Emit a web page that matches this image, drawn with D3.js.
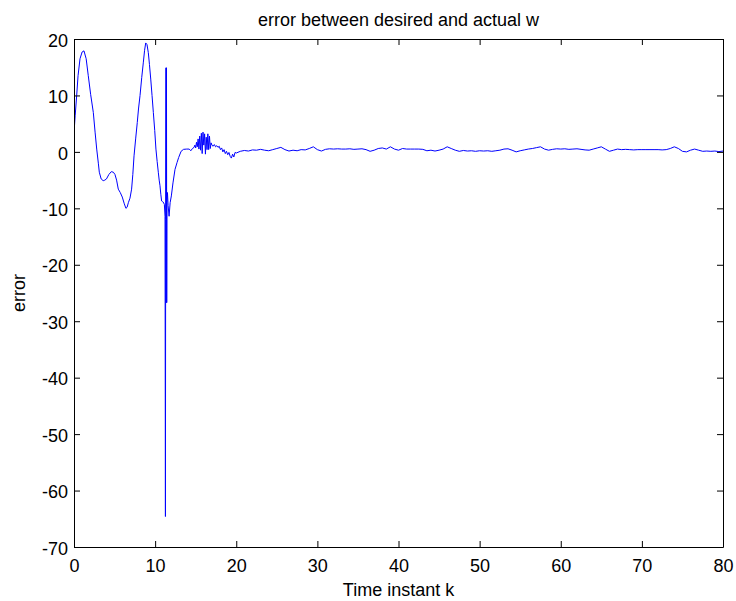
<!DOCTYPE html>
<html>
<head>
<meta charset="utf-8">
<script src="https://cdn.jsdelivr.net/npm/d3@7"></script>
<style>
  html, body { margin: 0; padding: 0; background: #fff; }
  svg { display: block; font-family: "Liberation Sans", Arial, Helvetica, sans-serif; }
</style>
</head>
<body>
<svg id="chart" width="736" height="601"></svg>
<script>
// Tracking error of w against time instant k
const timeK = [
  0, 0.15, 0.33, 0.5, 0.74, 1.0, 1.23, 1.5, 1.76, 2.05, 2.38, 2.6, 2.8, 3.0, 3.12, 3.35, 3.6, 3.8, 4.0, 4.3,
  4.6, 4.85, 5.05, 5.25, 5.46, 5.7, 5.95, 6.2, 6.4, 6.55, 6.7, 6.9, 7.1, 7.25, 7.4, 7.6, 7.8, 7.95, 8.14, 8.35,
  8.55, 8.7, 8.84, 9.0, 9.16, 9.3, 9.46, 9.62, 9.78, 9.95, 10.1, 10.25, 10.4, 10.5, 10.6, 10.7, 10.8, 10.9, 11.0, 11.14,
  11.22, 11.27, 11.30, 11.34, 11.37, 11.40, 11.43, 11.46, 11.52, 11.6, 11.72, 11.85, 12.0, 12.2, 12.45, 12.7, 12.9, 13.2, 13.5, 13.9,
  14.2, 14.4, 14.6, 14.8, 14.9, 15.0, 15.1, 15.2, 15.3, 15.4, 15.5, 15.6, 15.7, 15.8, 15.9, 16.0, 16.1, 16.2, 16.3, 16.4,
  16.5, 16.6, 16.7, 16.8, 16.9, 17.0, 17.15, 17.3, 17.45, 17.6, 17.75, 17.9, 18.05, 18.2, 18.35, 18.5, 18.65, 18.8, 18.95, 19.1,
  19.25, 19.4, 19.55, 19.7, 19.85, 20.0,
  20.5, 21, 21.5, 22, 22.5, 23, 23.5, 24, 24.5, 25, 25.5, 26, 26.5, 27, 27.5, 28, 28.5, 29, 29.5, 30,
  30.5, 31, 31.5, 32, 32.5, 33, 33.5, 34, 34.5, 35, 35.5, 36, 36.5, 37, 37.5, 38, 38.5, 39, 39.5, 40,
  40.5, 41, 41.5, 42, 42.5, 43, 43.5, 44, 44.5, 45, 45.5, 46, 46.5, 47, 47.5, 48, 48.5, 49, 49.5, 50,
  50.5, 51, 51.5, 52, 52.5, 53, 53.5, 54, 54.5, 55, 55.5, 56, 56.5, 57, 57.5, 58, 58.5, 59, 59.5, 60,
  60.5, 61, 61.5, 62, 62.5, 63, 63.5, 64, 64.5, 65, 65.5, 66, 66.5, 67, 67.5, 68, 68.5, 69, 69.5, 70,
  70.5, 71, 71.5, 72, 72.5, 73, 73.5, 74, 74.5, 75, 75.5, 76, 76.5, 77, 77.5, 78, 78.5, 79, 79.5, 80
];

const errorW = [
  3.4, 6.5, 10, 13.5, 16.5, 17.7, 17.9, 16.5, 13.5, 10.2, 7.0, 3.5, 0.5, -2.0, -3.6, -4.8, -5.1, -5.0, -4.8, -4.0,
  -3.5, -3.6, -4.0, -5.0, -6.6, -7.2, -8.0, -9.2, -10.0, -9.8, -9.0, -8.2, -6.6, -4.0, -0.7, 2.3, 5.2, 7.6, 10, 13.2,
  15.9, 18.0, 19.3, 19.0, 17.6, 15.5, 12.9, 10.0, 7.0, 3.8, 0.5, -1.7, -3.7, -5.0, -6.0, -7.5, -8.7, -8.8, -8.9, -9.3,
  -11.4, -64.6, -12, 14.9, -26.7, 14.9, -26.7, -9, -7.2, -9.5, -11.4, -9, -7.8, -5.5, -3.1, -1.9, -1.0, 0.1, 0.45, 0.5,
  0.5, 0.2, 0.6, 0.8, 1.2, 0.7, 1.7, 0.9, 2.3, 0.5, 2.8, 0.3, 3.3, -0.3, 3.5, 1.2, 3.2, -0.4, 2.6, 0.4,
  3.2, 0.4, 2.8, 0.6, 1.6, 1.2, 1.0, 1.3, 0.9, 1.1, 0.8, 1.0, 0.4, 0.7, 0.0, 0.4, -0.3, 0.1, -0.5, -0.1,
  -0.8, -1.1, -0.4, -0.9, -0.1, -0.2,
  0.1, 0.25, 0.15, 0.35, 0.3, 0.45, 0.3, 0.2, 0.4, 0.6, 0.8, 0.4, 0.15, 0.3, 0.2, 0.4, 0.35, 0.6, 0.9, 0.4,
  0.15, 0.45, 0.55, 0.5, 0.55, 0.5, 0.5, 0.55, 0.45, 0.5, 0.55, 0.4, 0.1, 0.3, 0.6, 0.7, 0.5, 0.9, 0.5, 0.3,
  0.6, 0.5, 0.5, 0.5, 0.5, 0.45, 0.2, 0.3, 0.15, 0.3, 0.5, 0.9, 0.6, 0.3, 0.1, 0.25, 0.15, 0.2, 0.1, 0.2,
  0.15, 0.2, 0.1, 0.2, 0.3, 0.5, 0.55, 0.3, 0.0, 0.2, 0.35, 0.5, 0.6, 0.75, 0.9, 0.5, 0.3, 0.45, 0.55, 0.5,
  0.55, 0.45, 0.5, 0.55, 0.45, 0.35, 0.3, 0.5, 0.7, 0.9, 0.5, 0.1, 0.3, 0.5, 0.4, 0.45, 0.4, 0.35, 0.4, 0.4,
  0.4, 0.4, 0.4, 0.4, 0.35, 0.4, 0.6, 0.9, 0.6, 0.1, 0.0, 0.3, 0.5, 0.3, 0.1, 0.15, 0.1, 0.15, 0.05, 0.15
];

const xTicks = [0, 10, 20, 30, 40, 50, 60, 70, 80];
const yTicks = [20, 10, 0, -10, -20, -30, -40, -50, -60, -70];

const titleText = "error between desired and actual w";
const xLabelText = "Time instant k";
const yLabelText = "error";

const svg = d3.select("#chart");
const plotLeft = 74, plotRight = 723, plotTop = 39, plotBottom = 547;
const fontSize = 18;
const tickLen = 6;
const plainNumber = d => String(d); // hyphen-minus for negatives

const x = d3.scaleLinear().domain([0, 80]).range([plotLeft, plotRight]);
const y = d3.scaleLinear().domain([-70, 20]).range([plotBottom, plotTop]);

// clip the curve to the axes box
svg.append("defs").append("clipPath").attr("id", "plotArea")
  .append("rect").attr("x", plotLeft).attr("y", plotTop)
  .attr("width", plotRight - plotLeft).attr("height", plotBottom - plotTop);

const points = timeK.map((t, i) => [t, errorW[i]]);
const line = d3.line().x(d => x(d[0])).y(d => y(d[1]));

svg.append("path")
  .datum(points)
  .attr("clip-path", "url(#plotArea)")
  .attr("fill", "none")
  .attr("stroke", "#0000ff")
  .attr("stroke-width", 1)
  .attr("stroke-linejoin", "miter")
  .attr("d", line);

// axes: inward ticks on all four sides
function styleAxis(g) {
  g.select(".domain").attr("stroke", "#000").attr("stroke-width", 1);
  g.selectAll(".tick line").attr("stroke", "#000").attr("stroke-width", 1);
  g.selectAll("text").attr("fill", "#000").attr("font-size", fontSize)
    .attr("font-family", "'Liberation Sans', Arial, sans-serif");
}

const gx = svg.append("g").attr("transform", `translate(0,${plotBottom})`)
  .call(d3.axisBottom(x).tickValues(xTicks).tickSize(-tickLen).tickSizeOuter(0).tickFormat(plainNumber));
styleAxis(gx);
gx.selectAll(".tick text").attr("y", 25).attr("dy", 0);

const gxTop = svg.append("g").attr("transform", `translate(0,${plotTop})`)
  .call(d3.axisTop(x).tickValues(xTicks).tickSize(-tickLen).tickSizeOuter(0).tickFormat(""));
styleAxis(gxTop);

const gy = svg.append("g").attr("transform", `translate(${plotLeft},0)`)
  .call(d3.axisLeft(y).tickValues(yTicks).tickSize(-tickLen).tickSizeOuter(0).tickFormat(plainNumber));
styleAxis(gy);
gy.selectAll(".tick text").attr("x", -6).attr("dy", "0.4em");

const gyRight = svg.append("g").attr("transform", `translate(${plotRight},0)`)
  .call(d3.axisRight(y).tickValues(yTicks).tickSize(-tickLen).tickSizeOuter(0).tickFormat(""));
styleAxis(gyRight);

// title and axis labels
svg.append("text")
  .attr("x", (plotLeft + plotRight) / 2).attr("y", 26)
  .attr("text-anchor", "middle").attr("font-size", fontSize).attr("fill", "#000")
  .text(titleText);

svg.append("text")
  .attr("x", (plotLeft + plotRight) / 2).attr("y", 596)
  .attr("text-anchor", "middle").attr("font-size", fontSize).attr("fill", "#000")
  .text(xLabelText);

svg.append("text")
  .attr("transform", `translate(25,${(plotTop + plotBottom) / 2}) rotate(-90)`)
  .attr("text-anchor", "middle").attr("font-size", fontSize).attr("fill", "#000")
  .text(yLabelText);
</script>
</body>
</html>
